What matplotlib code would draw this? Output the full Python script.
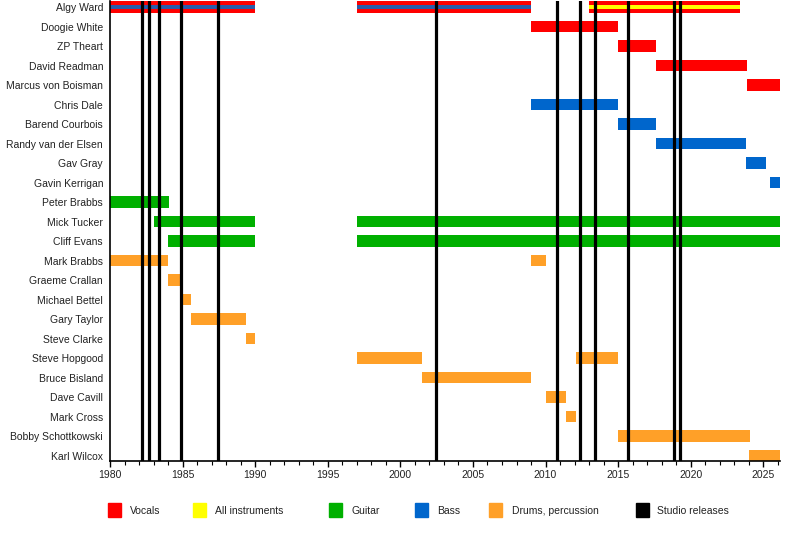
import matplotlib.pyplot as plt
from matplotlib.patches import Rectangle
from matplotlib.ticker import MultipleLocator

plt.rcParams['font.family'] = ['Liberation Sans', 'DejaVu Sans']

members = ["Algy Ward", "Doogie White", "ZP Theart", "David Readman",
           "Marcus von Boisman", "Chris Dale", "Barend Courbois",
           "Randy van der Elsen", "Gav Gray", "Gavin Kerrigan", "Peter Brabbs",
           "Mick Tucker", "Cliff Evans", "Mark Brabbs", "Graeme Crallan",
           "Michael Bettel", "Gary Taylor", "Steve Clarke", "Steve Hopgood",
           "Bruce Bisland", "Dave Cavill", "Mark Cross", "Bobby Schottkowski",
           "Karl Wilcox"]

end_year = 2026.15

# main bars: member, role, start, end
bar_member = ["Algy Ward", "Algy Ward", "Algy Ward",
              "Doogie White", "ZP Theart", "David Readman", "Marcus von Boisman",
              "Chris Dale", "Barend Courbois", "Randy van der Elsen", "Gav Gray",
              "Gavin Kerrigan",
              "Peter Brabbs", "Mick Tucker", "Mick Tucker", "Cliff Evans", "Cliff Evans",
              "Mark Brabbs", "Mark Brabbs", "Graeme Crallan", "Michael Bettel",
              "Gary Taylor", "Steve Clarke", "Steve Hopgood", "Steve Hopgood",
              "Bruce Bisland", "Dave Cavill", "Mark Cross", "Bobby Schottkowski",
              "Karl Wilcox"]
bar_role = ["Vocals", "Vocals", "Vocals",
            "Vocals", "Vocals", "Vocals", "Vocals",
            "Bass", "Bass", "Bass", "Bass", "Bass",
            "Guitar", "Guitar", "Guitar", "Guitar", "Guitar",
            "Drums", "Drums", "Drums", "Drums", "Drums", "Drums", "Drums", "Drums",
            "Drums", "Drums", "Drums", "Drums", "Drums"]
bar_start = [1980.0, 1997.0, 2013.0,
             2009.0, 2015.0, 2017.6, 2023.9,
             2009.0, 2015.0, 2017.6, 2023.8, 2025.45,
             1980.0, 1983.0, 1997.0, 1984.0, 1997.0,
             1980.0, 2009.0, 1984.0, 1985.0, 1985.6, 1989.4, 1997.0, 2012.1,
             2001.5, 2010.0, 2011.4, 2015.0, 2024.0]
bar_end = [1990.0, 2009.0, 2023.4,
           2015.0, 2017.6, 2023.9, end_year,
           2015.0, 2017.6, 2023.8, 2025.2, end_year,
           1984.05, 1990.0, end_year, 1990.0, end_year,
           1984.0, 2010.0, 1985.0, 1985.6, 1989.4, 1990.0, 2001.5, 2015.0,
           2009.0, 2011.4, 2012.1, 2024.1, end_year]

# thin stripes drawn inside a bar
stripe_member = ["Algy Ward", "Algy Ward", "Algy Ward"]
stripe_role = ["Bass", "Bass", "All instruments"]
stripe_start = [1980.0, 1997.0, 2013.0]
stripe_end = [1990.0, 2009.0, 2023.4]

releases = [1982.18, 1982.71, 1983.40, 1984.91, 1987.46, 2002.45,
            2010.80, 2012.39, 2013.42, 2015.70, 2018.86, 2019.28]

role_colors = {"Vocals": "#ff0000", "All instruments": "#ffff00",
               "Guitar": "#00b000", "Bass": "#0066cc",
               "Drums": "#ffa028"}
legend_labels = ["Vocals", "All instruments", "Guitar", "Bass",
                 "Drums, percussion", "Studio releases"]
legend_colors = ["#ff0000", "#ffff00", "#00b000", "#0066cc", "#ffa028", "#000000"]

fig = plt.figure(figsize=(8, 5.6), dpi=100)
# plot area: x 110..780 px, y 1..461 px
ax = fig.add_axes([110 / 800, 1 - 461.4 / 560, 670 / 800, 460.2 / 560])

row = {m: i for i, m in enumerate(members)}

for m, r, s, e in zip(bar_member, bar_role, bar_start, bar_end):
    ax.barh(row[m], e - s, left=s, height=0.6, color=role_colors[r],
            linewidth=0, zorder=2)
for m, r, s, e in zip(stripe_member, stripe_role, stripe_start, stripe_end):
    c = "#2a5caa" if r == "Bass" else role_colors[r]
    ax.barh(row[m], e - s, left=s, height=0.22, color=c, linewidth=0, zorder=2.5)

for x in releases:
    ax.axvline(x, color="black", linewidth=2.3, zorder=3)

ax.set_xlim(1980, end_year)
ax.set_ylim(len(members) - 1 + 0.3, -0.3)
ax.set_yticks(range(len(members)))
ax.set_yticklabels(members, fontsize=7.5, color="#222222")
ax.tick_params(axis="y", length=0, pad=5)
ax.xaxis.set_major_locator(MultipleLocator(5))
ax.xaxis.set_minor_locator(MultipleLocator(1))
ax.tick_params(axis="x", which="major", length=4, width=1, labelsize=7.5,
               labelcolor="#222222", pad=2.5)
ax.tick_params(axis="x", which="minor", length=3, width=0.8)
for side in ("top", "right"):
    ax.spines[side].set_visible(False)
for side in ("left", "bottom"):
    ax.spines[side].set_linewidth(1.2)

# legend along the bottom
sq_x = [108, 193, 329, 415, 489, 636]
tx_x = [130, 215, 351, 437, 512, 657]
for lbl, col, sx, tx in zip(legend_labels, legend_colors, sq_x, tx_x):
    fig.patches.append(Rectangle((sx / 800, 1 - 517 / 560), 13 / 800, 14 / 560,
                                 transform=fig.transFigure, color=col))
    fig.text(tx / 800, 1 - 511 / 560, lbl, fontsize=7.5, color="#222222",
             va="center", ha="left")

fig.savefig("out.png", dpi=100)
